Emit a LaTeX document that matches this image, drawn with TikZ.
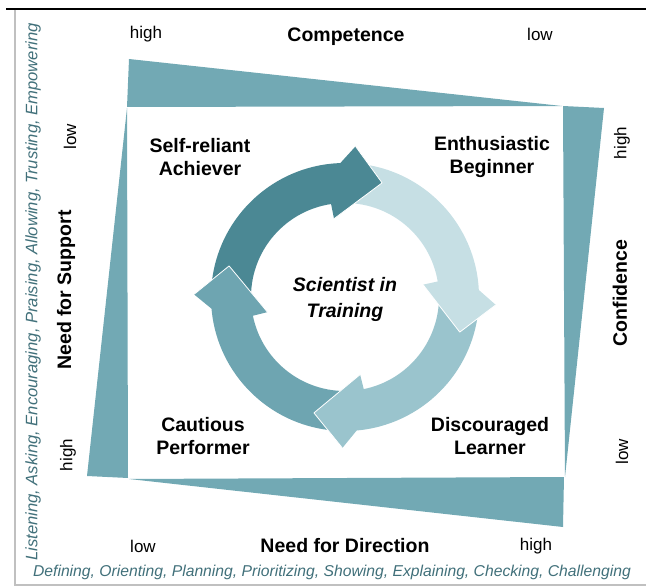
\documentclass[tikz,border=0pt]{standalone}
\usepackage{fontspec}
\setmainfont{Liberation Sans}
\usetikzlibrary{positioning}
\definecolor{wedgecol}{HTML}{72A9B4}
\definecolor{verbcol}{HTML}{41707A}
\definecolor{ringA}{HTML}{4B8894}
\definecolor{ringB}{HTML}{C6DFE4}
\definecolor{ringC}{HTML}{9AC4CD}
\definecolor{ringD}{HTML}{6EA5B1}
\definecolor{framecol}{HTML}{C0C0C0}
\tikzset{
	lvl/.style={inner sep=0pt, font=\fontsize{17}{20}\selectfont},
	axis/.style={inner sep=0pt, font=\bfseries\fontsize{19.5}{23}\selectfont},
	quad/.style={inner sep=0pt, align=center, font=\bfseries\fontsize{19.5}{23.5}\selectfont},
	verbs/.style={inner sep=0pt, text=verbcol, font=\itshape\fontsize{15.7}{18}\selectfont},
	wedge/.style={fill=wedgecol, draw=none}
}
\begin{document}
\begin{tikzpicture}[x=1pt, y=-1pt]
	\useasboundingbox (0,0) rectangle (646,586);
	
	\draw [line width=2pt] (6,9) -- (646,9);
	\draw [framecol, line width=2pt] (15,10) -- (15,585) -- (646,585);
	
	\fill [wedge] (129,59) -- (127,107) -- (562,106) -- cycle;
	\fill [wedge] (563,106) -- (604,108) -- (565,477) -- cycle;
	\fill [wedge] (129,479) -- (564,477) -- (563,527) -- cycle;
	\fill [wedge] (127,108) -- (128,478) -- (87,476) -- cycle;
	
	\begin{scope}[shift={(345,297)}, yscale=-1]
		\foreach \t/\b/\c in {175/92/ringA, 82/3/ringB, -7/-85/ringC, -95/-175/ringD}
			\fill [\c] (\t:134) arc [start angle=\t, end angle=\b-3, radius=134]
			-- (\b+3.4:94) arc [start angle=\b+3.4, end angle=\t+8, radius=94] -- cycle;
		\foreach \b/\c in {92/ringA, 3/ringB, -85/ringC, -175/ringD}
		{
			\fill [\c] (\b:134) -- (\b-6:151) -- (\b-20:120) -- (\b+6:79) -- (\b+6.5:94) -- cycle;
			\draw [white, line width=0.8pt, line join=round] (\b-6:151) -- (\b-20:120) -- (\b+6:79);
		}
	\end{scope}
	
	\node [lvl] (TOPH) at (146,34) {high};
	\node [axis] (COMP) at (346,37) {Competence};
	\node [lvl] (TOPL) at (540,34) {low};
	
	\node [lvl] (BOTL) at (143,546) {low};
	\node [axis] (DIR) at (345,546) {Need for Direction};
	\node [lvl] (BOTH) at (536,546) {high};
	\node [verbs] (DIRV) at (332,572) {Defining, Orienting, Planning, Prioritizing, Showing, Explaining, Checking, Challenging};
	
	\node [lvl, rotate=90] (LEFTL) at (70,137) {low};
	\node [axis, rotate=90] (SUPP) at (66,290) {Need for Support};
	\node [lvl, rotate=90] (LEFTH) at (68,455) {high};
	\node [verbs, rotate=90, font=\itshape\fontsize{16.6}{19}\selectfont] (SUPPV) at (33,292) {Listening, Asking, Encouraging, Praising, Allowing, Trusting, Empowering};
	
	\node [lvl, rotate=90] (RIGHTH) at (622,143) {high};
	\node [axis, rotate=90] (CONF) at (620,293) {Confidence};
	\node [lvl, rotate=90] (RIGHTL) at (622,452) {low};
	
	\node [quad] (SRA) at (200,157) {Self-reliant\\Achiever};
	\node [quad] (EB) at (492,157) {Enthusiastic\\Beginner};
	\node [quad] (CP) at (203,436) {Cautious\\Performer};
	\node [quad] (DL) at (490,436) {Discouraged\\Learner};
	\node [quad, font=\bfseries\itshape\fontsize{19.5}{26}\selectfont] (SIT) at (345,299) {Scientist in\\Training};
\end{tikzpicture}
\end{document}
